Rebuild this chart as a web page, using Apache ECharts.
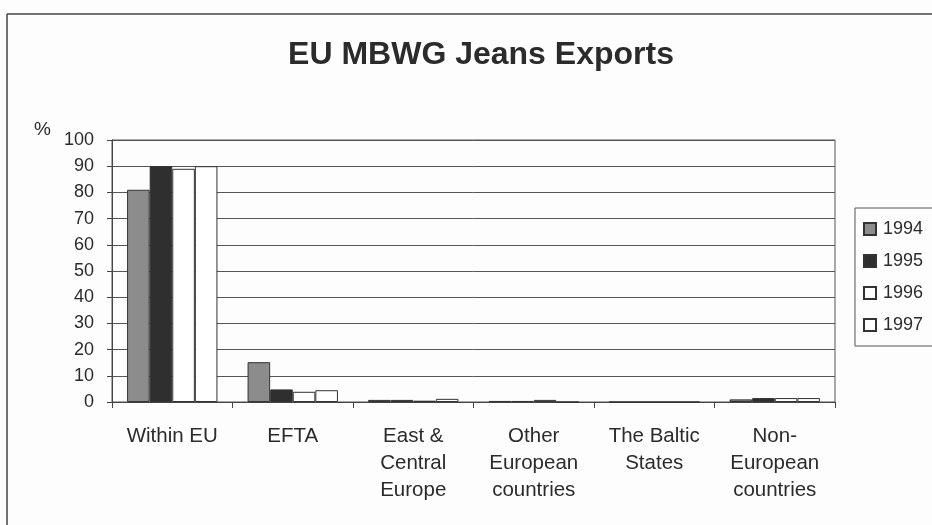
<!DOCTYPE html>
<html>
<head>
<meta charset="utf-8">
<script src="https://cdn.jsdelivr.net/npm/echarts@6/dist/echarts.min.js"></script>
<style>
  html, body { margin: 0; padding: 0; background: #fdfdfd; }
  #chart { width: 932px; height: 525px; }
</style>
</head>
<body>
<div id="chart"></div>
<script>
// Share of EU MBWG jeans exports by destination, per year (%)
const categories = [
  'Within EU',
  'EFTA',
  'East &\nCentral\nEurope',
  'Other\nEuropean\ncountries',
  'The Baltic\nStates',
  'Non-\nEuropean\ncountries'
];
const years = ['1994', '1995', '1996', '1997'];
const values1994 = [81, 15.2, 0.8, 0.4, 0, 1.0];
const values1995 = [90, 4.8, 0.8, 0.4, 0, 1.5];
const values1996 = [89, 3.9, 0.5, 0.8, 0, 1.5];
const values1997 = [90, 4.5, 1.2, 0, 0, 1.5];
const yTicks = [0, 10, 20, 30, 40, 50, 60, 70, 80, 90, 100];

const font = '"Liberation Sans", Arial, sans-serif';
const ink = '#2b2b2b';

const fills = ['#8c8c8c', '#2f2f2f', '#ffffff', '#ffffff'];
const seriesValues = [values1994, values1995, values1996, values1997];

const chart = echarts.init(document.getElementById('chart'), null, { renderer: 'canvas' });

chart.setOption({
  backgroundColor: '#fdfdfd',
  animation: false,
  title: {
    text: 'EU MBWG Jeans Exports',
    left: 476,
    textAlign: 'center',
    top: 34,
    textStyle: { fontFamily: font, fontSize: 32, fontWeight: 'bold', color: ink }
  },
  graphic: [
    { type: 'line', shape: { x1: 7, y1: 14, x2: 932, y2: 14 }, style: { stroke: '#444', lineWidth: 1.5 } },
    { type: 'line', shape: { x1: 7, y1: 14, x2: 7, y2: 525 }, style: { stroke: '#444', lineWidth: 1.5 } },
    { type: 'text', left: 34, top: 120, style: { text: '%', fontFamily: font, fontSize: 19, fill: ink } }
  ],
  legend: {
    orient: 'vertical',
    left: 855,
    top: 208,
    data: years,
    itemWidth: 12,
    itemHeight: 12,
    itemGap: 14,
    padding: [12, 30, 12, 8],
    borderColor: '#555',
    borderWidth: 1,
    icon: 'rect',
    textStyle: { fontFamily: font, fontSize: 18, color: ink, padding: [0, 0, 0, 2] }
  },
  grid: {
    left: 112, right: 97, top: 140, bottom: 123,
    show: true, borderColor: '#555', borderWidth: 1, backgroundColor: 'transparent'
  },
  xAxis: {
    type: 'category',
    data: categories,
    boundaryGap: true,
    axisLine: { lineStyle: { color: '#444', width: 1 } },
    axisTick: { show: true, alignWithLabel: false, length: 6, lineStyle: { color: '#444' } },
    axisLabel: {
      interval: 0, margin: 21, color: ink,
      fontFamily: font, fontSize: 20.5, lineHeight: 27
    }
  },
  yAxis: {
    type: 'value',
    min: yTicks[0],
    max: yTicks[yTicks.length - 1],
    interval: 10,
    axisLine: { show: true, lineStyle: { color: '#444', width: 1 } },
    axisTick: { show: true, length: 5, lineStyle: { color: '#444' } },
    axisLabel: { margin: 18, color: ink, fontFamily: font, fontSize: 18 },
    splitLine: { show: true, lineStyle: { color: '#555', width: 1 } }
  },
  series: years.map((y, i) => ({
    name: y,
    type: 'bar',
    data: seriesValues[i],
    barGap: '0%',
    barCategoryGap: '25%',
    itemStyle: { color: fills[i], borderColor: '#333', borderWidth: 1 }
  }))
});
</script>
</body>
</html>
